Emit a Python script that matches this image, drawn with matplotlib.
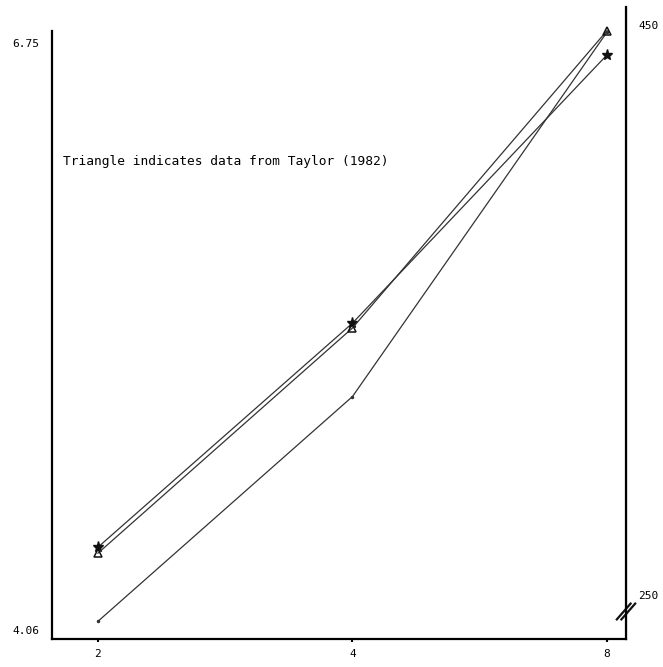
import matplotlib
matplotlib.use('Agg')
import matplotlib.pyplot as plt

# Processor counts on the x axis (log2 spacing)
procs = [2, 4, 8]
x_ticklabels = ['2', '4', '8']

# Plain line, read against the left axis
plain_values = [4.10, 5.13, 6.80]

# Star line and triangle line (Taylor 1982), read against the right axis
star_values = [266.8, 345.4, 439.5]
triangle_values = [264.7, 343.7, 448.0]

left_ticks = [4.06, 6.75]
right_ticks = [250, 450]

mono = 'DejaVu Sans Mono'

fig = plt.figure(figsize=(6.63, 6.67), dpi=100)
ax = fig.add_axes([0.0784, 0.042, 0.8658, 0.9475])
ax2 = ax.twinx()

# Left axis
ax.set_xscale('log', base=2)
ax.set_xlim(2 ** 0.8193, 2 ** 3.0747)
ax.set_ylim(4.019, 6.915)
ax.plot(procs, plain_values, color='#333333', lw=0.9,
        marker='.', markersize=3)

# Right axis
ax2.set_ylim(234.6, 456.3)
ax2.plot(procs, star_values, color='#333333', lw=0.9,
         marker='*', markersize=8, markerfacecolor='#111111',
         markeredgecolor='#111111')
ax2.plot(procs, triangle_values, color='#333333', lw=0.9,
         marker='^', markersize=6, markerfacecolor='none',
         markeredgecolor='#111111', markeredgewidth=1.1)

# Spines
for a in (ax, ax2):
    a.spines['top'].set_visible(False)
ax.spines['left'].set_linewidth(1.6)
ax.spines['bottom'].set_linewidth(1.6)
ax2.spines['right'].set_linewidth(1.6)
ax.spines['left'].set_bounds(4.019, 6.805)
ax2.spines['left'].set_visible(False)
ax2.spines['bottom'].set_visible(False)

# Ticks
ax.xaxis.set_major_locator(matplotlib.ticker.FixedLocator(procs))
ax.xaxis.set_minor_locator(matplotlib.ticker.NullLocator())
ax.set_xticklabels(x_ticklabels, fontfamily=mono, fontsize=8)
ax.tick_params(axis='x', length=2.5, width=1.5, pad=5)

ax.set_yticks(left_ticks)
ax.set_yticklabels(['%.2f' % v for v in left_ticks], fontfamily=mono, fontsize=8)
ax.tick_params(axis='y', length=0, pad=9)

ax2.set_yticks(right_ticks)
ax2.set_yticklabels([str(v) for v in right_ticks], fontfamily=mono, fontsize=8)
ax2.tick_params(axis='y', length=0, pad=9)

# Axis break mark on the right axis
for off in (-0.004, 0.004):
    ax2.plot([0.988 + off, 1.012 + off], [0.031, 0.056], transform=ax2.transAxes,
             clip_on=False, color='#111111', lw=1.6)

ax.text(0.019, 0.756, 'Triangle indicates data from Taylor (1982)',
        transform=ax.transAxes, ha='left', va='center',
        fontfamily=mono, fontsize=9.3)

fig.savefig('out.png', dpi=100)
